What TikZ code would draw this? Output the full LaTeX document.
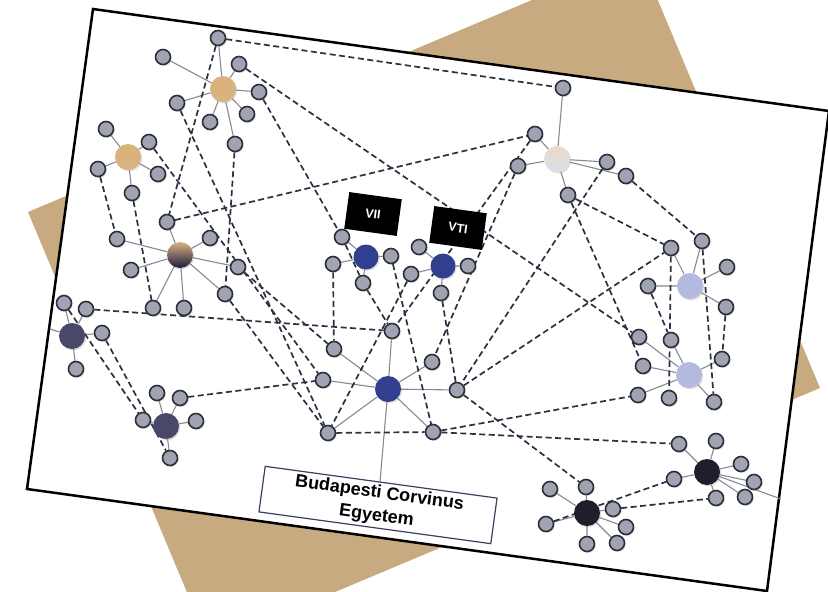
\documentclass[tikz,border=0pt]{standalone}
\usepackage{fontspec}
\setmainfont{Liberation Sans}
\usetikzlibrary{shadows}
\definecolor{tanbg}{RGB}{199,170,127}
\definecolor{tanhub}{RGB}{217,178,125}
\definecolor{satfill}{RGB}{160,164,178}
\definecolor{satline}{RGB}{45,47,58}
\definecolor{spoke}{RGB}{135,138,150}
\definecolor{tiecol}{RGB}{45,48,64}
\definecolor{navy}{RGB}{48,64,142}
\definecolor{slate}{RGB}{74,72,104}
\definecolor{lilac}{RGB}{180,186,223}
\definecolor{inky}{RGB}{30,30,44}
\definecolor{boxline}{RGB}{60,64,92}
\pgfdeclarelayer{back}
\pgfdeclarelayer{edges}
\pgfsetlayers{back,edges,main}
\begin{document}
\begin{tikzpicture}[x=1pt,y=-1pt,
  sat/.style={circle,draw=satline,fill=satfill,line width=1.6pt,minimum size=15pt,inner sep=0pt,drop shadow={shadow xshift=1.2pt,shadow yshift=-1.4pt,opacity=.3}},
  hub/.style={circle,minimum size=26pt,inner sep=0pt,drop shadow={shadow xshift=1.2pt,shadow yshift=-1.4pt,opacity=.25}},
  spokeline/.style={spoke,line width=1.1pt},
  tie/.style={tiecol,line width=1.7pt,dash pattern=on 6pt off 3.5pt},
  tag/.style={fill=black,text=white,font=\bfseries\fontsize{12.5}{13}\selectfont,minimum width=53pt,minimum height=37pt,inner sep=0pt,rotate=-7.8}]
\useasboundingbox (0,0) rectangle (828,592);
\begin{pgfonlayer}{back}
\fill[tanbg] (28,212) -- (639,-45) -- (820,388) -- (209,645) -- cycle;
\filldraw[fill=white,draw=black,line width=2.5pt] (93,9) -- (829,111) -- (767,591) -- (27,489) -- cycle;
\end{pgfonlayer}
\node[hub,fill=tanhub] (A) at (223,89) {};
\node[sat] (a0) at (218,38) {}; \node[sat] (a1) at (163,57) {}; \node[sat] (a2) at (239,64) {}; \node[sat] (a3) at (259,92) {};
\node[sat] (a4) at (177,103) {}; \node[sat] (a5) at (247,114) {}; \node[sat] (a6) at (210,122) {}; \node[sat] (a7) at (235,144) {};
\node[hub,fill=tanhub] (B) at (128,157) {};
\node[sat] (b1) at (106,129) {}; \node[sat] (b2) at (149,142) {}; \node[sat] (b3) at (98,169) {}; \node[sat] (b4) at (158,174) {}; \node[sat] (b5) at (132,193) {};
\node[hub,top color=tanhub,bottom color=inky!90!blue] (C) at (180,255) {};
\node[sat] (c1) at (167,222) {}; \node[sat] (c2) at (117,239) {}; \node[sat] (c3) at (210,238) {}; \node[sat] (c4) at (131,270) {};
\node[sat] (c5) at (238,267) {}; \node[sat] (c6) at (225,294) {}; \node[sat] (c7) at (153,308) {}; \node[sat] (c8) at (184,308) {};
\node[hub,fill=slate] (D) at (72,336) {};
\node[sat] (d1) at (64,303) {}; \node[sat] (d2) at (86,309) {}; \node[sat] (d3) at (102,333) {}; \node[sat] (d4) at (76,369) {};
\coordinate (dout) at (50,329);
\node[hub,fill=slate] (E) at (166,426) {};
\node[sat] (e1) at (157,393) {}; \node[sat] (e2) at (180,398) {}; \node[sat] (e3) at (143,420) {}; \node[sat] (e4) at (196,421) {}; \node[sat] (e5) at (170,458) {};
\node[hub,fill=navy,minimum size=25pt] (V) at (366,257) {};
\node[sat] (v1) at (342,237) {}; \node[sat] (v2) at (391,256) {}; \node[sat] (v3) at (333,264) {}; \node[sat] (v4) at (363,283) {};
\node[hub,fill=navy,minimum size=25pt] (T) at (443,266) {};
\node[sat] (t1) at (419,247) {}; \node[sat] (t2) at (468,266) {}; \node[sat] (t3) at (411,274) {}; \node[sat] (t4) at (441,293) {};
\node[hub,fill=navy] (M) at (388,389) {};
\node[sat] (m1) at (392,331) {}; \node[sat] (m2) at (334,349) {}; \node[sat] (m3) at (323,380) {}; \node[sat] (m4) at (432,362) {};
\node[sat] (m5) at (457,390) {}; \node[sat] (m6) at (328,433) {}; \node[sat] (m7) at (433,432) {};
\node[hub,top color={rgb,255:red,236;green,218;blue,196},bottom color={rgb,255:red,218;green,221;blue,236}] (F) at (557,159) {};
\node[sat] (f0) at (563,88) {}; \node[sat] (f1) at (535,134) {}; \node[sat] (f2) at (518,166) {};
\node[sat] (f3) at (607,162) {}; \node[sat] (f4) at (626,176) {}; \node[sat] (f5) at (568,195) {};
\node[hub,fill=lilac] (G) at (690,286) {};
\node[sat] (g1) at (671,248) {}; \node[sat] (g2) at (702,241) {}; \node[sat] (g3) at (727,267) {}; \node[sat] (g4) at (648,286) {}; \node[sat] (g5) at (726,307) {};
\node[hub,fill=lilac] (H) at (689,375) {};
\node[sat] (h1) at (639,337) {}; \node[sat] (h2) at (671,340) {}; \node[sat] (h3) at (643,366) {}; \node[sat] (h4) at (722,359) {};
\node[sat] (h5) at (638,395) {}; \node[sat] (h6) at (669,398) {}; \node[sat] (h7) at (714,402) {};
\node[hub,fill=inky] (K) at (587,513) {};
\node[sat] (k1) at (586,487) {}; \node[sat] (k2) at (550,489) {}; \node[sat] (k3) at (613,509) {}; \node[sat] (k4) at (626,527) {};
\node[sat] (k5) at (546,524) {}; \node[sat] (k6) at (587,544) {}; \node[sat] (k7) at (617,543) {};
\node[hub,fill=inky] (L) at (707,472) {};
\node[sat] (l1) at (679,444) {}; \node[sat] (l2) at (716,441) {}; \node[sat] (l3) at (741,464) {}; \node[sat] (l4) at (754,482) {};
\node[sat] (l5) at (674,479) {}; \node[sat] (l6) at (716,498) {}; \node[sat] (l7) at (745,497) {};
\coordinate (lout) at (781,499);
\node[tag] (vii) at (373,214) {VII};
\node[tag] (vti) at (458,228) {VTI};
\node[draw=boxline,fill=white,line width=1.2pt,rotate=-7.8,minimum width=234pt,minimum height=46pt,align=center,inner sep=1pt,
  font=\bfseries\fontsize{18}{23}\selectfont] (bce) at (378,505) {Budapesti Corvinus\\Egyetem};
\begin{pgfonlayer}{edges}
\draw[spokeline] (A) -- (a0) (A) -- (a1) (A) -- (a2) (A) -- (a3) (A) -- (a4) (A) -- (a5) (A) -- (a6) (A) -- (a7);
\draw[spokeline] (B) -- (b1) (B) -- (b2) (B) -- (b3) (B) -- (b4) (B) -- (b5);
\draw[spokeline] (C) -- (c1) (C) -- (c2) (C) -- (c3) (C) -- (c4) (C) -- (c5) (C) -- (c6) (C) -- (c7) (C) -- (c8);
\draw[spokeline] (D) -- (d1) (D) -- (d2) (D) -- (d3) (D) -- (d4) (D) -- (dout);
\draw[spokeline] (E) -- (e1) (E) -- (e2) (E) -- (e3) (E) -- (e4) (E) -- (e5);
\draw[spokeline] (V) -- (v1) (V) -- (v2) (V) -- (v3) (V) -- (v4);
\draw[spokeline] (T) -- (t1) (T) -- (t2) (T) -- (t3) (T) -- (t4);
\draw[spokeline] (M) -- (m1) (M) -- (m2) (M) -- (m3) (M) -- (m4) (M) -- (m5) (M) -- (m6) (M) -- (m7) (M) -- (bce);
\draw[spokeline] (F) -- (f0) (F) -- (f1) (F) -- (f2) (F) -- (f3) (F) -- (f4) (F) -- (f5);
\draw[spokeline] (G) -- (g1) (G) -- (g2) (G) -- (g3) (G) -- (g4) (G) -- (g5);
\draw[spokeline] (H) -- (h1) (H) -- (h2) (H) -- (h3) (H) -- (h4) (H) -- (h5) (H) -- (h7);
\draw[spokeline] (K) -- (k1) (K) -- (k2) (K) -- (k3) (K) -- (k4) (K) -- (k5) (K) -- (k6) (K) -- (k7);
\draw[spokeline] (L) -- (l1) (L) -- (l2) (L) -- (l3) (L) -- (l4) (L) -- (l5) (L) -- (l6) (L) -- (l7) (L) -- (lout);
\draw[tie] (a0) -- (f0); \draw[tie] (a0) -- (c1); \draw[tie] (a2) -- (h1); \draw[tie] (a3) -- (v1);
\draw[tie] (v1) -- (v4); \draw[tie] (v4) -- (m1); \draw[tie] (a7) -- (c6); \draw[tie] (c6) -- (m6);
\draw[tie] (c1) -- (f1); \draw[tie] (b3) -- (c2); \draw[tie] (b5) -- (c7); \draw[tie] (b2) -- (m3);
\draw[tie] (c5) -- (m2); \draw[tie] (a4) -- (m6); \draw[tie] (d2) -- (m1); \draw[tie] (e2) -- (m3);
\draw[tie] (d1) -- (e3); \draw[tie] (d3) -- (e5); \draw[tie] (v3) -- (m2); \draw[tie] (v2) -- (m7);
\draw[tie] (t3) -- (m6); \draw[tie] (t4) -- (m5); \draw[tie] (f1) -- (m1); \draw[tie] (f2) -- (m4);
\draw[tie] (f3) -- (m5); \draw[tie] (f5) -- (h3); \draw[tie] (f5) -- (g1); \draw[tie] (f4) -- (g2);
\draw[tie] (m5) -- (g1); \draw[tie] (m5) -- (k1); \draw[tie] (m6) -- (m7); \draw[tie] (m7) -- (l1);
\draw[tie] (m7) -- (h5); \draw[tie] (g4) -- (h2); \draw[tie] (g1) -- (h6); \draw[tie] (g2) -- (h7);
\draw[tie] (g5) -- (h4); \draw[tie] (k5) -- (l5); \draw[tie] (k3) -- (l6);
\end{pgfonlayer}
\end{tikzpicture}
\end{document}
